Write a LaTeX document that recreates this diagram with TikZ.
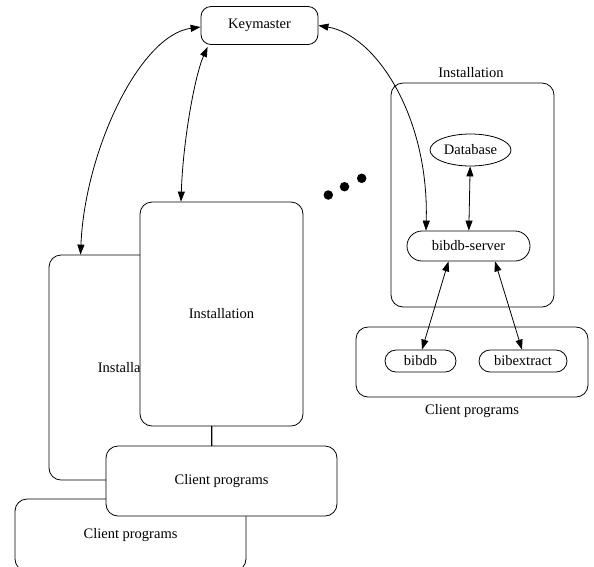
\documentclass[tikz,border=0pt]{standalone}
\usepackage{fontspec}
\setmainfont{Liberation Serif}
\usetikzlibrary{shapes.geometric,arrows.meta,calc}
\tikzset{
  base/.style={draw=black, line width=0.8pt, fill=white, inner sep=0pt, font=\fontsize{14.5}{17}\selectfont},
  rbox/.style={base, rectangle, rounded corners=#1},
  rbox/.default=12pt,
  oval/.style={base, ellipse},
  lbl/.style={inner sep=0pt, font=\fontsize{14.5}{17}\selectfont},
  link/.style={line width=0.8pt, {Triangle[length=10pt,width=7pt]}-{Triangle[length=10pt,width=7pt]}},
  plain/.style={line width=0.8pt},
  dot/.style={circle, fill=black, inner sep=0pt, minimum size=9.5pt}
}
\begin{document}
\begin{tikzpicture}[x=1pt,y=-1pt]
\useasboundingbox (0,0) rectangle (594,566);
% right detailed installation
\node[rbox, minimum width=163pt, minimum height=224pt] (rinst) at (472.5,195) {};
\node[lbl] (rinstl) at (471,73) {Installation};
\node[oval, minimum width=81pt, minimum height=32pt] (db) at (470.5,150) {Database};
\node[rbox=15pt, minimum width=123pt, minimum height=30pt] (srv) at (468.5,246) {bibdb-server};
\node[rbox, minimum width=232pt, minimum height=70pt] (rcli) at (472,362) {};
\node[lbl] (rclil) at (472,411) {Client programs};
\node[rbox=11pt, minimum width=71pt, minimum height=22pt] (bibdb) at (420.5,361) {bibdb};
\node[rbox=11pt, minimum width=88pt, minimum height=22pt] (bibext) at (523,361) {bibextract};
% keymaster
\node[rbox=10pt, minimum width=117pt, minimum height=38pt] (km) at (259.5,25.5) {Keymaster};
% stacked installations on the left
\node[rbox, minimum width=163pt, minimum height=225pt] (iback) at (130.5,367.5) {Installation};
\draw[plain] ([xshift=-10pt]iback.south) -- ([xshift=-10pt]iback.south |- 0,499);
\node[rbox, minimum width=231pt, minimum height=72pt] (cback) at (130.5,535) {Client programs};
\node[rbox, minimum width=163pt, minimum height=224pt] (ifront) at (221.5,314) {Installation};
\node[rbox, minimum width=231pt, minimum height=70pt] (cfront) at (221.5,481) {Client programs};
\draw[plain] ([xshift=-10pt]ifront.south) -- ([xshift=-10pt]ifront.south |- cfront.north);
% dots
\node[dot] (d1) at (328.3,195) {};
\node[dot] (d2) at (344.5,186.7) {};
\node[dot] (d3) at (361.7,178.3) {};
% connectors
\draw[link] ([yshift=-1.5pt]km.west) .. controls (140,35) and (85,150) .. ([xshift=-50pt]iback.north);
\draw[link] ([xshift=7pt,yshift=-2pt]km.south west) .. controls (195,75) and (183,140) .. ([xshift=-40.5pt]ifront.north);
\draw[link] (km.east) .. controls (375,35) and (429,115) .. ([xshift=-42.5pt]srv.north);
\draw[link] (db) -- (srv);
\draw[link] ([xshift=-20pt]srv.south) -- ([xshift=1.5pt]bibdb.north);
\draw[link] ([xshift=26.5pt]srv.south) -- ([xshift=-1pt]bibext.north);
\end{tikzpicture}
\end{document}
